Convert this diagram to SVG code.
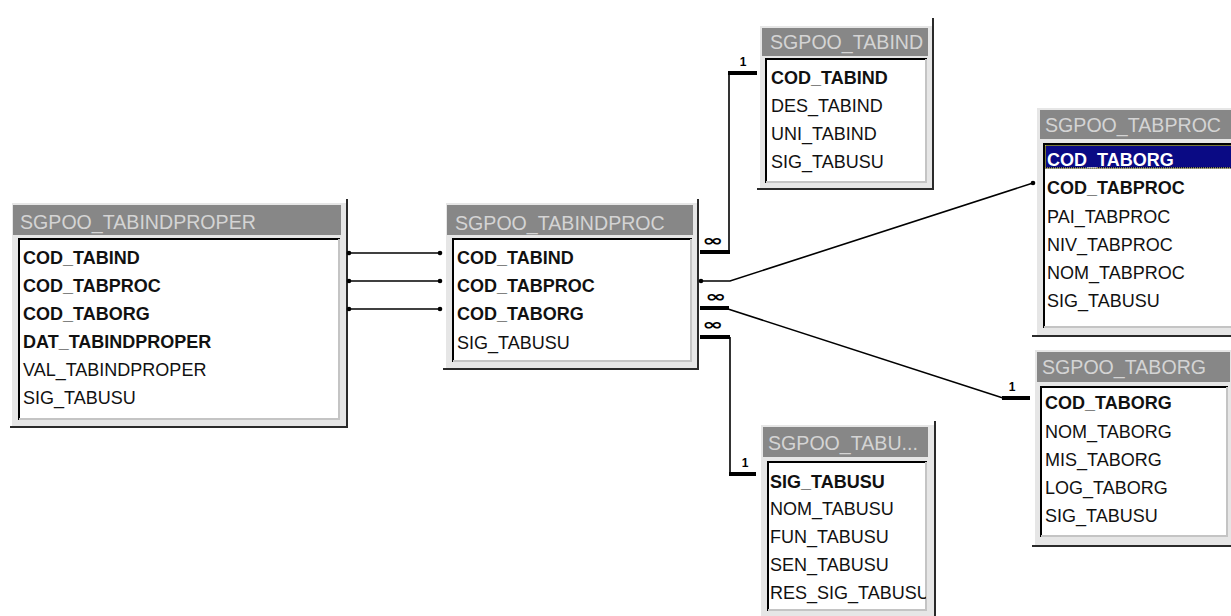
<svg xmlns="http://www.w3.org/2000/svg" width="1231" height="616" viewBox="0 0 1231 616">
<style>
.bg{fill:#ffffff}
.frame{fill:#e6e6e6}
.title{fill:#878787}
.list{fill:#ffffff}
.dk{stroke:#000;stroke-width:2;fill:none}
.lt{stroke:#c4c4c4;stroke-width:2;fill:none}
.sh{stroke:#2a2a2a;stroke-width:2;fill:none}
.tt{font-family:"Liberation Sans",Arial,sans-serif;font-size:19.6px;fill:#d4d4d4}
.f{font-family:"Liberation Sans",Arial,sans-serif;font-size:18px;fill:#111}
.b{font-weight:bold}
.w{fill:#ffffff}
.ln{stroke:#000;stroke-width:1.6;fill:none}
.tk{stroke:#000;stroke-width:4;fill:none}
.one{font-family:"Liberation Sans",Arial,sans-serif;font-size:12px;font-weight:bold;fill:#000;text-anchor:middle}
.inf{font-family:"DejaVu Sans",sans-serif;font-size:16px;font-weight:bold;fill:#000}
</style>
<defs>
<marker id="dot" markerWidth="6" markerHeight="6" refX="3" refY="3" markerUnits="userSpaceOnUse"><circle cx="3" cy="3" r="2.3" fill="#000"/></marker>
<clipPath id="c6"><rect x="767" y="461" width="159" height="150"/></clipPath>
</defs>
<rect class="bg" x="0" y="0" width="1231" height="616"/>

<g id="SGPOO_TABINDPROPER">
<rect class="frame" x="12" y="203" width="334" height="223"/>
<rect class="title" x="13" y="205" width="328" height="30"/>
<text class="tt" x="20" y="229">SGPOO_TABINDPROPER</text>
<rect class="list" x="18" y="238" width="322" height="182"/>
<path class="dk" d="M19,420 V239 H340"/>
<path class="lt" d="M339,239 V419 H19"/>
<path class="sh" d="M347,199 V428 M10,427 H348"/>
<text class="f b" x="23" y="264">COD_TABIND</text>
<text class="f b" x="23" y="292">COD_TABPROC</text>
<text class="f b" x="23" y="320">COD_TABORG</text>
<text class="f b" x="23" y="348">DAT_TABINDPROPER</text>
<text class="f" x="23" y="376">VAL_TABINDPROPER</text>
<text class="f" x="23" y="404">SIG_TABUSU</text>
</g>

<g id="SGPOO_TABINDPROC">
<rect class="frame" x="446" y="203" width="251" height="165"/>
<rect class="title" x="447" y="205" width="246" height="30"/>
<text class="tt" x="455" y="230">SGPOO_TABINDPROC</text>
<rect class="list" x="452" y="238" width="240" height="124"/>
<path class="dk" d="M453,362 V239 H692"/>
<path class="lt" d="M691,239 V361 H453"/>
<path class="sh" d="M698,199 V370 M443,369 H699"/>
<text class="f b" x="457" y="264">COD_TABIND</text>
<text class="f b" x="457" y="292">COD_TABPROC</text>
<text class="f b" x="457" y="320">COD_TABORG</text>
<text class="f" x="457" y="349">SIG_TABUSU</text>
</g>

<g id="SGPOO_TABIND">
<rect class="frame" x="760" y="26" width="172" height="162"/>
<rect class="title" x="762" y="28" width="166" height="28"/>
<text class="tt" x="770" y="49">SGPOO_TABIND</text>
<rect class="list" x="765" y="58" width="162" height="125"/>
<path class="dk" d="M766,183 V59 H927"/>
<path class="lt" d="M926,59 V182 H766"/>
<path class="sh" d="M933,18 V190 M757,189 H934"/>
<text class="f b" x="771" y="84">COD_TABIND</text>
<text class="f" x="771" y="112">DES_TABIND</text>
<text class="f" x="771" y="140">UNI_TABIND</text>
<text class="f" x="771" y="168">SIG_TABUSU</text>
</g>

<g id="SGPOO_TABPROC">
<rect class="frame" x="1037" y="108" width="194" height="227"/>
<rect class="title" x="1040" y="110" width="191" height="29"/>
<text class="tt" x="1045" y="132">SGPOO_TABPROC</text>
<rect class="list" x="1043" y="143" width="188" height="185"/>
<path class="dk" d="M1044,328 V144 H1231"/>
<path class="lt" d="M1044,327 H1231"/>
<path class="sh" d="M1032,336 H1231"/>
<rect x="1045" y="145" width="186" height="23" fill="#0a0a84"/>
<rect x="1045.5" y="145.5" width="190" height="22.5" fill="none" stroke="#000" stroke-width="1"/>
<rect x="1045.5" y="145.5" width="190" height="22.5" fill="none" stroke="#f0f070" stroke-width="1" stroke-dasharray="1 1"/>
<text class="f b w" x="1047" y="166">COD_TABORG</text>
<text class="f b" x="1047" y="194">COD_TABPROC</text>
<text class="f" x="1047" y="223">PAI_TABPROC</text>
<text class="f" x="1047" y="251">NIV_TABPROC</text>
<text class="f" x="1047" y="279">NOM_TABPROC</text>
<text class="f" x="1047" y="307">SIG_TABUSU</text>
</g>

<g id="SGPOO_TABORG">
<rect class="frame" x="1035" y="350" width="196" height="195"/>
<rect class="title" x="1037" y="352" width="193" height="30"/>
<text class="tt" x="1042" y="374">SGPOO_TABORG</text>
<rect class="list" x="1040" y="386" width="188" height="151"/>
<path class="dk" d="M1041,537 V387 H1228"/>
<path class="lt" d="M1227,387 V536 H1041"/>
<path class="sh" d="M1032,546 H1231"/>
<text class="f b" x="1045" y="409">COD_TABORG</text>
<text class="f" x="1045" y="438">NOM_TABORG</text>
<text class="f" x="1045" y="466">MIS_TABORG</text>
<text class="f" x="1045" y="494">LOG_TABORG</text>
<text class="f" x="1045" y="522">SIG_TABUSU</text>
</g>

<g id="SGPOO_TABUSU">
<rect class="frame" x="761" y="425" width="173" height="191"/>
<rect class="title" x="763" y="427" width="165" height="30"/>
<text class="tt" x="768" y="450">SGPOO_TABU...</text>
<rect class="list" x="767" y="461" width="160" height="150"/>
<path class="dk" d="M768,611 V462 H927"/>
<path class="lt" d="M926,462 V610 H768"/>
<path class="sh" d="M935,421 V616"/>
<g clip-path="url(#c6)">
<text class="f b" x="770" y="488">SIG_TABUSU</text>
<text class="f" x="770" y="515">NOM_TABUSU</text>
<text class="f" x="770" y="543">FUN_TABUSU</text>
<text class="f" x="770" y="571">SEN_TABUSU</text>
<text class="f" x="770" y="599">RES_SIG_TABUSU</text>
</g>
</g>

<g id="connectors">
<path class="ln" d="M349,253 H440" marker-start="url(#dot)" marker-end="url(#dot)"/>
<path class="ln" d="M349,281 H440" marker-start="url(#dot)" marker-end="url(#dot)"/>
<path class="ln" d="M349,309 H440" marker-start="url(#dot)" marker-end="url(#dot)"/>

<path class="tk" d="M700,252 H730"/>
<path class="ln" d="M729,252 V73"/>
<path class="tk" d="M728,73 H757"/>
<text class="inf" x="702" y="245.5" textLength="21" lengthAdjust="spacingAndGlyphs">∞</text>
<text class="one" x="743" y="66">1</text>

<path class="ln" d="M701,281 H730 L1033,183" marker-start="url(#dot)" marker-end="url(#dot)"/>

<path class="tk" d="M700,308 H729"/>
<path class="ln" d="M728,309 L1003,398"/>
<path class="tk" d="M1002,398 H1030"/>
<text class="inf" x="705" y="301.5" textLength="21" lengthAdjust="spacingAndGlyphs">∞</text>
<text class="one" x="1012" y="391">1</text>

<path class="tk" d="M700,337 H730"/>
<path class="ln" d="M730,337 V474"/>
<path class="tk" d="M729,474 H756"/>
<text class="inf" x="702" y="329.5" textLength="21" lengthAdjust="spacingAndGlyphs">∞</text>
<text class="one" x="745" y="467">1</text>
</g>
</svg>
